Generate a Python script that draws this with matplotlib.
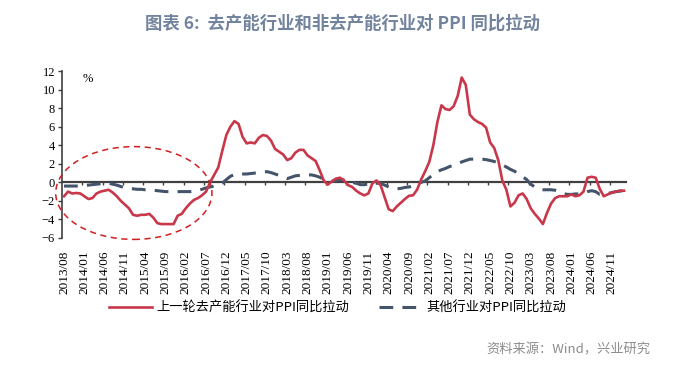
import numpy as np
import pandas as pd
import matplotlib
matplotlib.use('Agg')
import matplotlib.pyplot as plt
from matplotlib.patches import Ellipse

plt.rcParams['font.family'] = ['Noto Sans CJK SC', 'DejaVu Sans']

# monthly data, 2013/08 - 2025/02
months = pd.date_range('2013-08-01', periods=139, freq='MS').strftime('%Y/%m').tolist()

old_overcap = [
    -1.5, -1.0, -1.2, -1.15, -1.2, -1.5, -1.8, -1.7, -1.2, -1.0,
    -0.9, -0.8, -1.1, -1.5, -2.0, -2.4, -2.8, -3.5, -3.6, -3.5,
    -3.5, -3.4, -3.8, -4.4, -4.5, -4.5, -4.5, -4.5, -3.6, -3.4,
    -2.8, -2.3, -1.9, -1.7, -1.4, -1.0, 0.0, 0.8, 1.6, 3.4,
    5.1, 6.0, 6.6, 6.3, 4.9, 4.2, 4.3, 4.2, 4.8, 5.1,
    5.0, 4.5, 3.6, 3.3, 3.0, 2.4, 2.6, 3.2, 3.5, 3.5,
    2.9, 2.6, 2.3, 1.3, 0.2, -0.25, 0.1, 0.4, 0.5, 0.2,
    -0.3, -0.5, -0.9, -1.2, -1.4, -1.2, -0.1, 0.2, -0.3, -1.6,
    -2.9, -3.1, -2.6, -2.2, -1.8, -1.45, -1.4, -0.8, 0.3, 1.2,
    2.2, 4.0, 6.5, 8.3, 7.9, 7.8, 8.2, 9.3, 11.3, 10.5,
    7.3, 6.8, 6.5, 6.3, 5.9, 4.3, 3.7, 2.4, 0.2, -0.8,
    -2.6, -2.2, -1.4, -1.2, -1.8, -2.8, -3.4, -3.9, -4.5, -3.3,
    -2.3, -1.7, -1.5, -1.5, -1.5, -1.3, -1.5, -1.4, -1.0, 0.5,
    0.6, 0.5, -0.7, -1.5, -1.3, -1.1, -1.0, -0.9, -0.9,
]

others = [
    -0.4, -0.4, -0.4, -0.4, -0.4, -0.35, -0.3, -0.25, -0.2, -0.15,
    -0.1, -0.1, -0.2, -0.3, -0.45, -0.6, -0.65, -0.7, -0.75, -0.75,
    -0.8, -0.8, -0.85, -0.9, -0.95, -1.0, -1.0, -1.0, -1.0, -1.0,
    -1.0, -1.0, -0.95, -0.85, -0.75, -0.6, -0.5, -0.4, -0.3, -0.1,
    0.3, 0.65, 0.85, 0.9, 0.9, 0.9, 0.95, 1.0, 1.05, 1.1,
    1.15, 1.05, 0.9, 0.75, 0.55, 0.4, 0.55, 0.7, 0.75, 0.8,
    0.8, 0.8, 0.7, 0.55, 0.35, 0.2, 0.1, 0.2, 0.3, 0.25,
    0.15, 0.0, -0.1, -0.25, -0.25, -0.2, -0.15, -0.1, -0.1, -0.3,
    -0.5, -0.65, -0.7, -0.65, -0.55, -0.5, -0.4, -0.2, 0.0, 0.15,
    0.5, 0.85, 1.15, 1.35, 1.5, 1.7, 1.85, 2.0, 2.2, 2.35,
    2.5, 2.5, 2.5, 2.5, 2.45, 2.35, 2.25, 2.1, 1.9, 1.65,
    1.4, 1.2, 0.9, 0.6, 0.3, -0.2, -0.5, -0.75, -0.8, -0.8,
    -0.8, -0.85, -1.0, -1.2, -1.3, -1.3, -1.25, -1.25, -1.2, -1.0,
    -0.9, -1.0, -1.3, -1.3, -1.2, -1.1, -1.0, -0.95, -0.9,
]

label_names = ['上一轮去产能行业对PPI同比拉动', '其他行业对PPI同比拉动']
title = '图表 6:  去产能行业和非去产能行业对 PPI 同比拉动'
source = '资料来源：Wind，兴业研究'

red = '#C8374A'
navy = '#44546A'
axis_col = '#404040'
serif = 'Liberation Serif'

x = np.arange(len(months))

fig = plt.figure(figsize=(6.85, 3.67), dpi=100)
ax = fig.add_axes([0.0905, 0.3515, 0.8235, 0.455])

ax.plot(x, old_overcap, color=red, lw=1.9, label=label_names[0], zorder=3)
ax.plot(x, others, color=navy, lw=2.2, ls=(0, (4.5, 3)), label=label_names[1], zorder=2)

# circled period (2013-2016)
ell = Ellipse((17.2, -1.15), 38.5, 10.0, fill=False, ec='#D02020', lw=1.1,
              ls=(0, (4, 3)), clip_on=False, zorder=4)
ax.add_patch(ell)

ax.set_xlim(-0.5, len(months) - 0.5)
ax.set_ylim(-6, 12)
ax.set_yticks(np.arange(-6, 13, 2))
ax.tick_params(axis='y', direction='out', length=3, width=1, color=axis_col,
               labelsize=9, pad=2)
for t in ax.get_yticklabels():
    t.set_fontfamily(serif)

ax.set_xticks(x[::5])
ax.set_xticklabels(months[::5], rotation=90, fontsize=9.5, fontfamily=serif)
ax.tick_params(axis='x', length=0, pad=9)

for s in ['top', 'right', 'bottom']:
    ax.spines[s].set_visible(False)
ax.spines['left'].set_color(axis_col)
ax.spines['left'].set_linewidth(1.2)

# zero line with category ticks
zax = ax.secondary_xaxis(6 / 18)
zax.set_xticks(np.arange(-0.5, len(months), 5)[1:])
zax.tick_params(axis='x', direction='out', length=2, width=1, color=axis_col,
                labelbottom=False, labeltop=False)
zax.set_xticklabels([])
zax.spines['bottom'].set_color(axis_col)
zax.spines['bottom'].set_linewidth(1.6)

ax.text(0.046, 0.955, '%', transform=ax.transAxes, fontsize=9,
        fontfamily=serif, ha='center', va='center')

fig.text(0.5, 0.935, title, ha='center', va='center', fontsize=12.5,
         fontweight='bold', color='#72839E')

leg = fig.legend(loc='center', bbox_to_anchor=(0.493, 0.16), ncol=2,
                 frameon=False, fontsize=9.5, handlelength=3.2,
                 columnspacing=2.2, handletextpad=0.4)

fig.text(0.95, 0.045, source, ha='right', va='center', fontsize=9.5,
         color='#8C8C8C')

fig.savefig('out.png', dpi=100)
